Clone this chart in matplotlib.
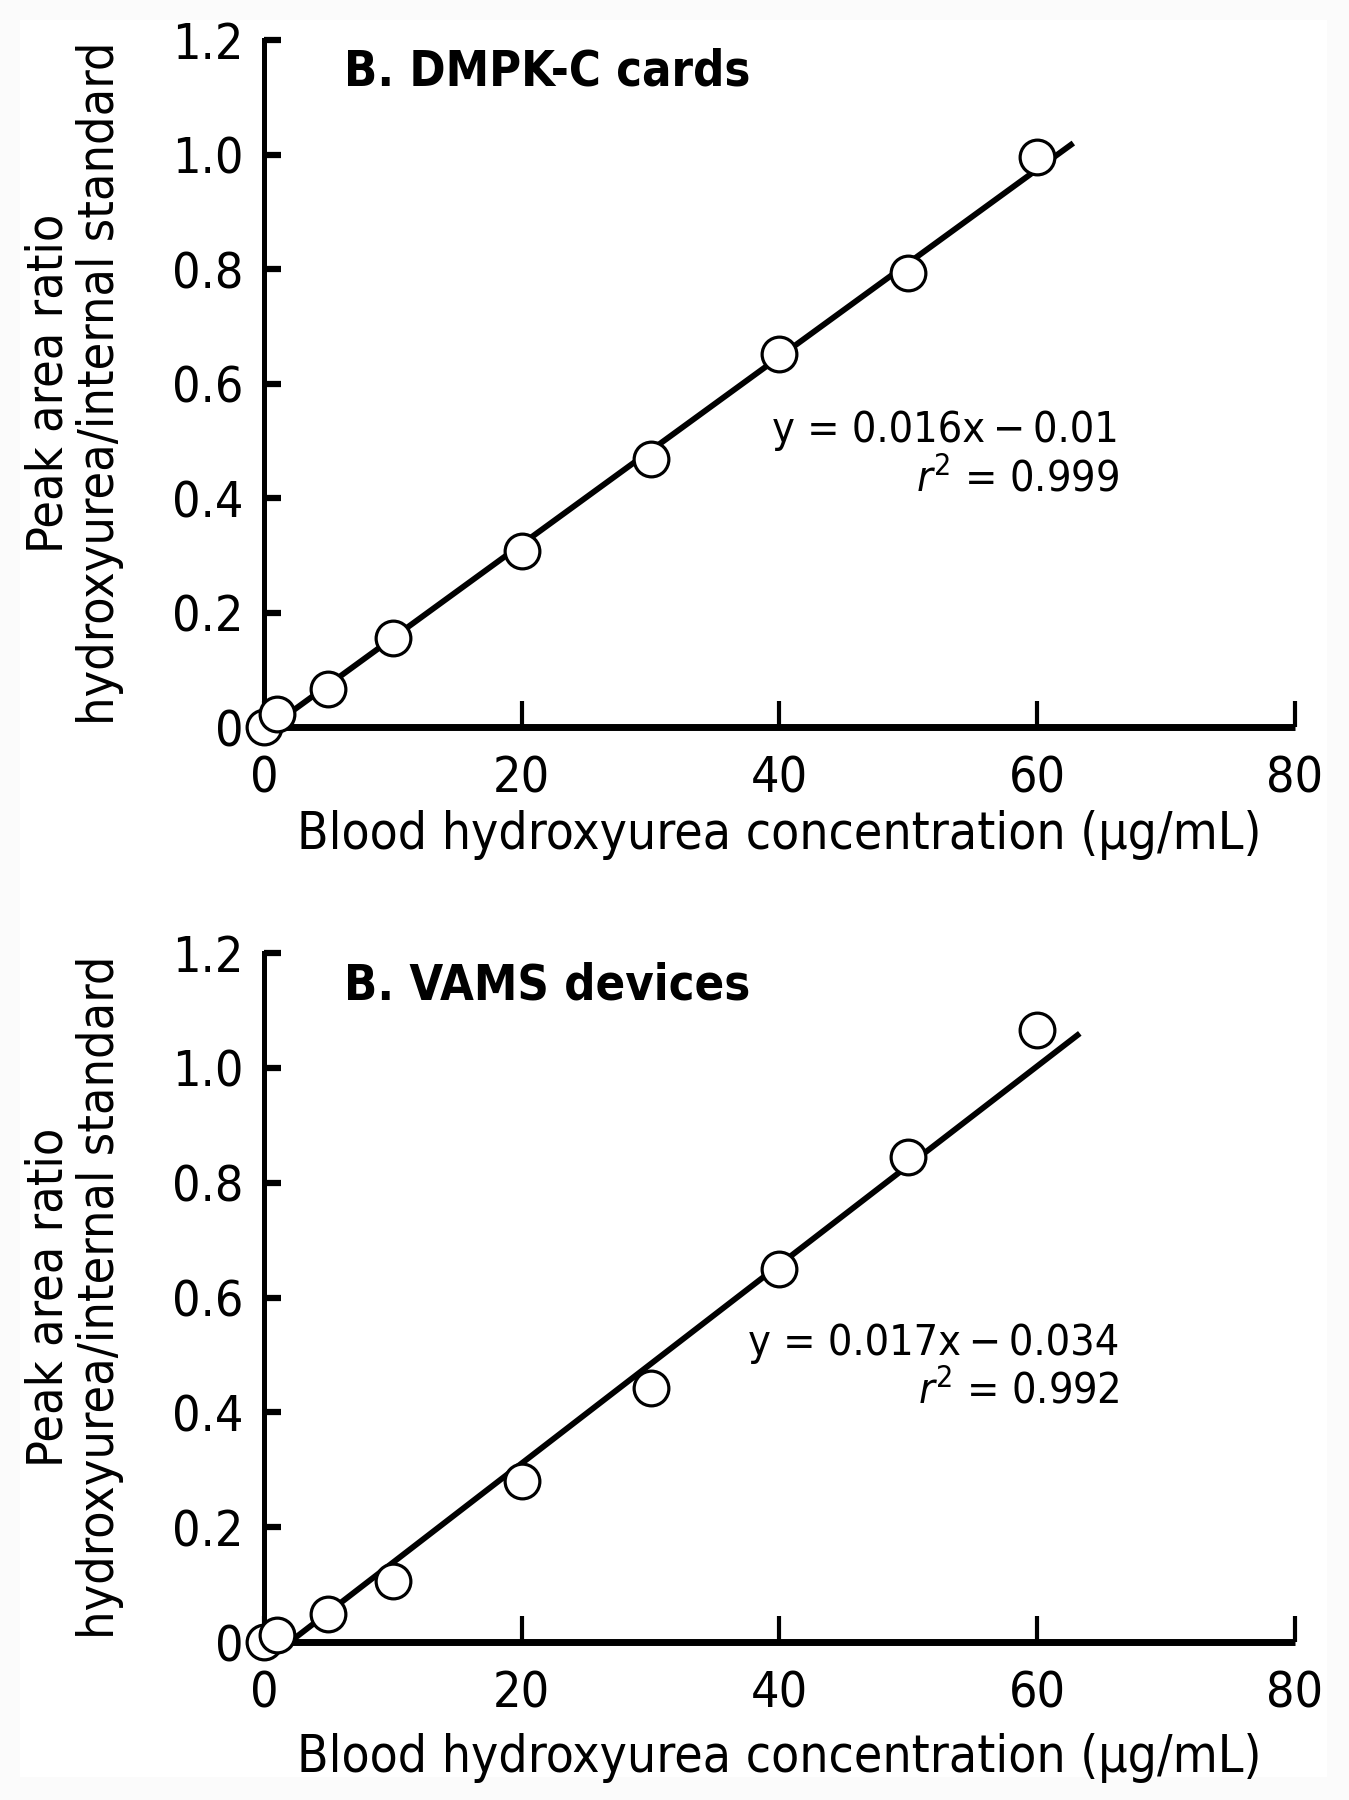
import matplotlib
matplotlib.use("Agg")
from matplotlib import pyplot as plt
from matplotlib.patches import Rectangle

plt.rcParams['font.family'] = ['DejaVu Sans']
plt.rcParams['font.stretch'] = 'condensed'
plt.rcParams['mathtext.fontset'] = 'dejavusans'

# concentrations (ug/mL)
conc = [0, 1, 5, 10, 20, 30, 40, 50, 60]

# B. DMPK-C cards
dmpk_ratio = [0.0, 0.022, 0.066, 0.155, 0.307, 0.468, 0.652, 0.793, 0.995]
dmpk_fit_x = [0.5, 62.8]
dmpk_fit_y = [0.0, 1.02]

# B. VAMS devices
vams_ratio = [0.0, 0.012, 0.048, 0.106, 0.28, 0.442, 0.65, 0.844, 1.066]
vams_fit_x = [2.0, 63.3]
vams_fit_y = [0.0, 1.06]

x_ticks = [0, 20, 40, 60, 80]
y_ticks = [0, 0.2, 0.4, 0.6, 0.8, 1.0, 1.2]
y_ticklabels = ['0', '0.2', '0.4', '0.6', '0.8', '1.0', '1.2']

panels = [
    ("B. DMPK-C cards", dmpk_ratio, dmpk_fit_x, dmpk_fit_y,
     "y = 0.016x\u2009\u2212\u20090.01", "0.999"),
    ("B. VAMS devices", vams_ratio, vams_fit_x, vams_fit_y,
     "y = 0.017x\u2009\u2212\u20090.034", "0.992"),
]

W, H = 1349, 1800
fig = plt.figure(figsize=(W / 100, H / 100), dpi=100)
fig.patch.set_facecolor('#fbfbfb')
fig.add_artist(Rectangle((20 / W, 23 / H), (1327 - 20) / W, (1780 - 23) / H,
                         transform=fig.transFigure, facecolor='white',
                         edgecolor='none', zorder=0))

# axes boxes in pixels: (y of 0, y of 1.2), x label pad
boxes = [(727, 40, 5), (1642, 953, 11)]
left_px, right_px = 264, 1295

for (title, ratio, fx, fy, eq, r2), (y0, y1, lpad) in zip(panels, boxes):
    ax = fig.add_axes([left_px / W, 1 - y0 / H, (right_px - left_px) / W, (y0 - y1) / H])
    ax.patch.set_alpha(0)
    ax.set_xlim(0, 80)
    ax.set_ylim(0, 1.2)

    ax.plot(fx, fy, color='black', linewidth=4.2, solid_capstyle='butt', zorder=3)
    ax.plot(conc, ratio, linestyle='none', marker='o', markersize=25,
            markerfacecolor='white', markeredgecolor='black',
            markeredgewidth=2.3, clip_on=False, zorder=4)

    ax.spines['top'].set_visible(False)
    ax.spines['right'].set_visible(False)
    ax.spines['left'].set_linewidth(3.6)
    ax.spines['bottom'].set_linewidth(5)
    ax.spines['bottom'].set_capstyle('butt')

    ax.set_xticks(x_ticks)
    ax.set_yticks(y_ticks)
    ax.set_yticklabels(y_ticklabels)
    ax.tick_params(axis='x', direction='in', length=19, width=3, pad=20, labelsize=36)
    ax.tick_params(axis='y', direction='in', length=12, width=4.5, pad=15, labelsize=36)

    ax.set_xlabel("Blood hydroxyurea concentration (\u03bcg/mL)", fontsize=37, labelpad=lpad)

    ax.text(344 / W, 1 - (y1 + 46) / H, title, transform=fig.transFigure,
            fontsize=35, fontweight='bold', ha='left', va='baseline')
    ax.text(1119 / W, 1 - (y1 + 402) / H, eq, transform=fig.transFigure,
            fontsize=31, ha='right', va='baseline')
    ax.text(1119 / W, 1 - (y1 + 451) / H, r"$\mathit{r}^{2}$ = " + r2,
            transform=fig.transFigure, fontsize=31, ha='right', va='baseline')

    fig.text(74 / W, 1 - ((y0 + y1) / 2) / H,
             "Peak area ratio\nhydroxyurea/internal standard",
             rotation=90, ha='center', va='center', multialignment='center',
             fontsize=36, linespacing=1.1)

fig.savefig("out.png", dpi=100, facecolor=fig.get_facecolor())
